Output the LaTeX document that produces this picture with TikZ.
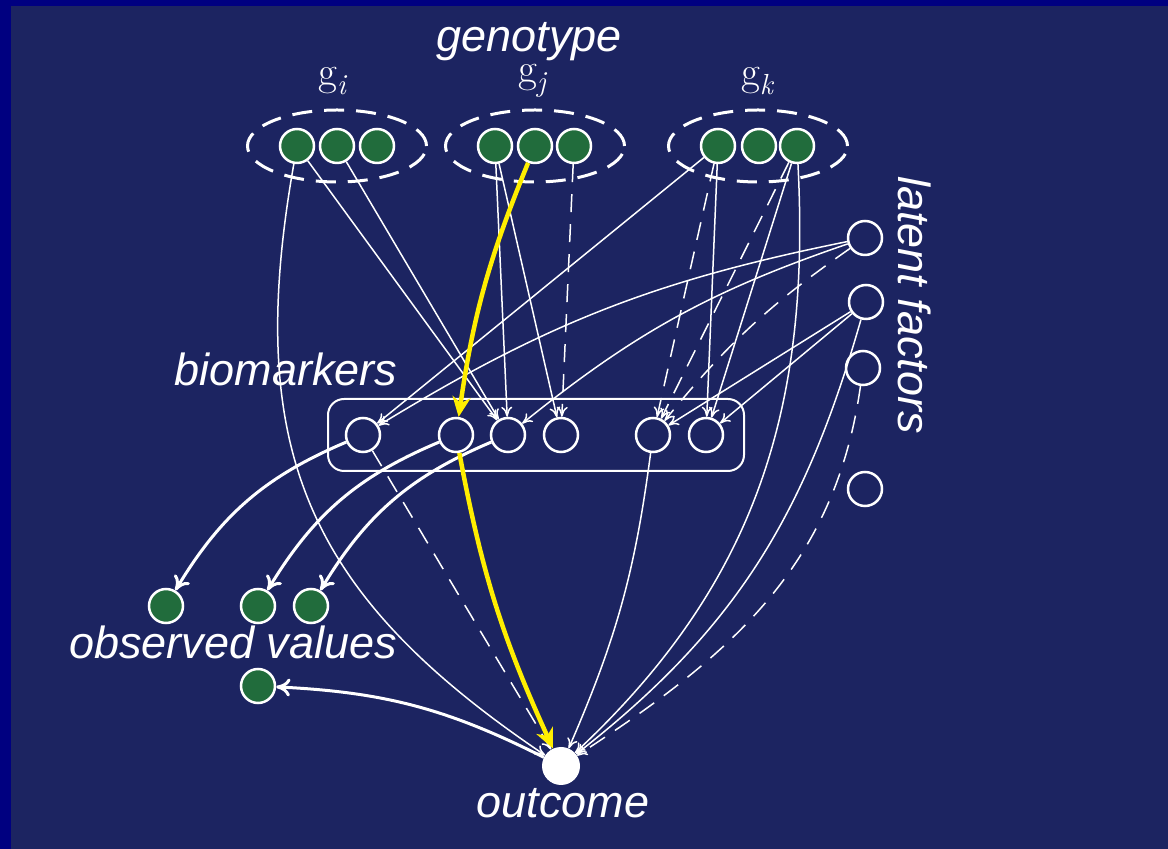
\documentclass[tikz,border=0pt]{standalone}
\usepackage{fontspec}
\newfontfamily\labfont{Liberation Sans}
\usetikzlibrary{arrows.meta,shapes.geometric}
\definecolor{bgout}{RGB}{0,0,128}
\definecolor{bgin}{RGB}{28,36,97}
\definecolor{gfill}{RGB}{33,108,60}
\definecolor{yel}{RGB}{255,238,0}
\newcommand{\gsub}[1]{g\raisebox{-9pt}{\fontsize{29}{30}\selectfont\itshape #1}}
\begin{document}
\begin{tikzpicture}[x=1pt,y=1pt,
  gnode/.style={circle,draw=white,fill=gfill,line width=2.5pt,minimum size=34pt,inner sep=0pt},
  enode/.style={circle,draw=white,line width=2.5pt,minimum size=34pt,inner sep=0pt},
  onode/.style={circle,fill=white,minimum size=38pt,inner sep=0pt},
  lab/.style={text=white,font=\labfont\fontsize{45}{54}\selectfont\itshape,anchor=base,inner sep=0pt},
  glab/.style={text=white,font=\rmfamily\fontsize{41}{48}\selectfont,inner sep=0pt},
  grp/.style={draw=white,line width=3pt,dash pattern=on 20pt off 12pt,ellipse,minimum width=179pt,minimum height=72pt,inner sep=0pt},
  sline/.style={draw=white,line width=1.5pt,-{To[length=10pt,width=11pt]}},
  dline/.style={sline,dash pattern=on 18pt off 12pt},
  tline/.style={draw=white,line width=3pt,-{To[length=14pt,width=18pt]}},
  yline/.style={draw=yel,line width=4.5pt,-{Stealth[length=20pt,width=18pt,inset=6pt]}},
]
\fill[bgout] (0,0) rectangle (1168,849);
\fill[bgin] (11,0) rectangle (1168,843);
\useasboundingbox (0,0) rectangle (1168,849);

% groups
\node[grp] (egi) at (337,703) {};
\node[grp] (egj) at (535,703) {};
\node[grp] (egk) at (758,703) {};
\node[draw=white,line width=2pt,rounded corners=16pt,minimum width=416pt,minimum height=72pt,inner sep=0pt] (bmbox) at (536,414) {};

% genotype nodes
\node[gnode] (gi1) at (297,703) {};
\node[gnode] (gi2) at (337,703) {};
\node[gnode] (gi3) at (377,703) {};
\node[gnode] (gj1) at (495,703) {};
\node[gnode] (gj2) at (535,703) {};
\node[gnode] (gj3) at (574,703) {};
\node[gnode] (gk1) at (718,703) {};
\node[gnode] (gk2) at (759,703) {};
\node[gnode] (gk3) at (797,703) {};

% latent factors
\node[enode] (l1) at (865,611) {};
\node[enode] (l2) at (866,547) {};
\node[enode] (l3) at (863,481) {};
\node[enode] (l4) at (865,360) {};

% biomarkers
\node[enode] (b1) at (363,414) {};
\node[enode] (b2) at (456,414) {};
\node[enode] (b3) at (508,414) {};
\node[enode] (b4) at (561,414) {};
\node[enode] (b5) at (653,414) {};
\node[enode] (b6) at (706,414) {};

% observed values
\node[gnode] (o1) at (166,243) {};
\node[gnode] (o2) at (258,243) {};
\node[gnode] (o3) at (311,243) {};
\node[gnode] (o4) at (258,163) {};

% outcome
\node[onode] (out) at (561,83) {};

% labels
\node[lab] (tgen) at (529,797) {genotype};
\node[glab] (tgi) at (332,768) {\gsub{i}};
\node[glab] (tgj) at (532,768) {\gsub{j}};
\node[glab] (tgk) at (757,768) {\gsub{k}};
\node[lab] (tbio) at (286,463) {biomarkers};
\node[lab] (tobs) at (233,190) {observed values};
\node[lab] (tout) at (563,31) {outcome};
\node[lab,anchor=center,rotate=-90] (tlat) at (915,544) {latent factors};

% edges from genotype
\draw[sline] (gi1) to[out=-100,in=146,looseness=1.15] (out);
\draw[sline] (gi1) -- (b3);
\draw[sline] (gi2) -- (b3);
\draw[sline] (gj1) -- (b3);
\draw[sline] (gj1) -- (b4);
\draw[dline] (gj3) -- (b4);
\draw[sline] (gk1) -- (b1);
\draw[dline] (gk1) -- (b5);
\draw[sline] (gk1) -- (b6);
\draw[dline] (gk3) -- (b5);
\draw[sline] (gk3) -- (b6);
\draw[sline] (gk3) to[out=-87,in=43] (out);

% edges from latent factors
\draw[sline] (l1) to[bend right=10] (b1);
\draw[sline] (l1) to[bend right=10] (b3);
\draw[dline] (l1) to[bend right=8] (b5);
\draw[sline] (l2) -- (b5);
\draw[sline] (l2) -- (b6);
\draw[sline] (l2) to[out=-106,in=38] (out);
\draw[dline] (l3) to[out=-98,in=33] (out);

% edges from biomarkers
\draw[sline] (b5) to[bend left=8] (out);
\draw[dline] (b1) -- (out);
\draw[tline] (b1) to[bend right=18] (o1);
\draw[tline] (b2) to[bend right=18] (o2);
\draw[tline] (b3) to[bend right=18] (o3);
\draw[tline] (out) to[bend right=12] (o4);

% highlighted path
\draw[yline] (gj2) to[bend right=7] (b2);
\draw[yline] (b2) to[bend right=7] (out);
\end{tikzpicture}
\end{document}
